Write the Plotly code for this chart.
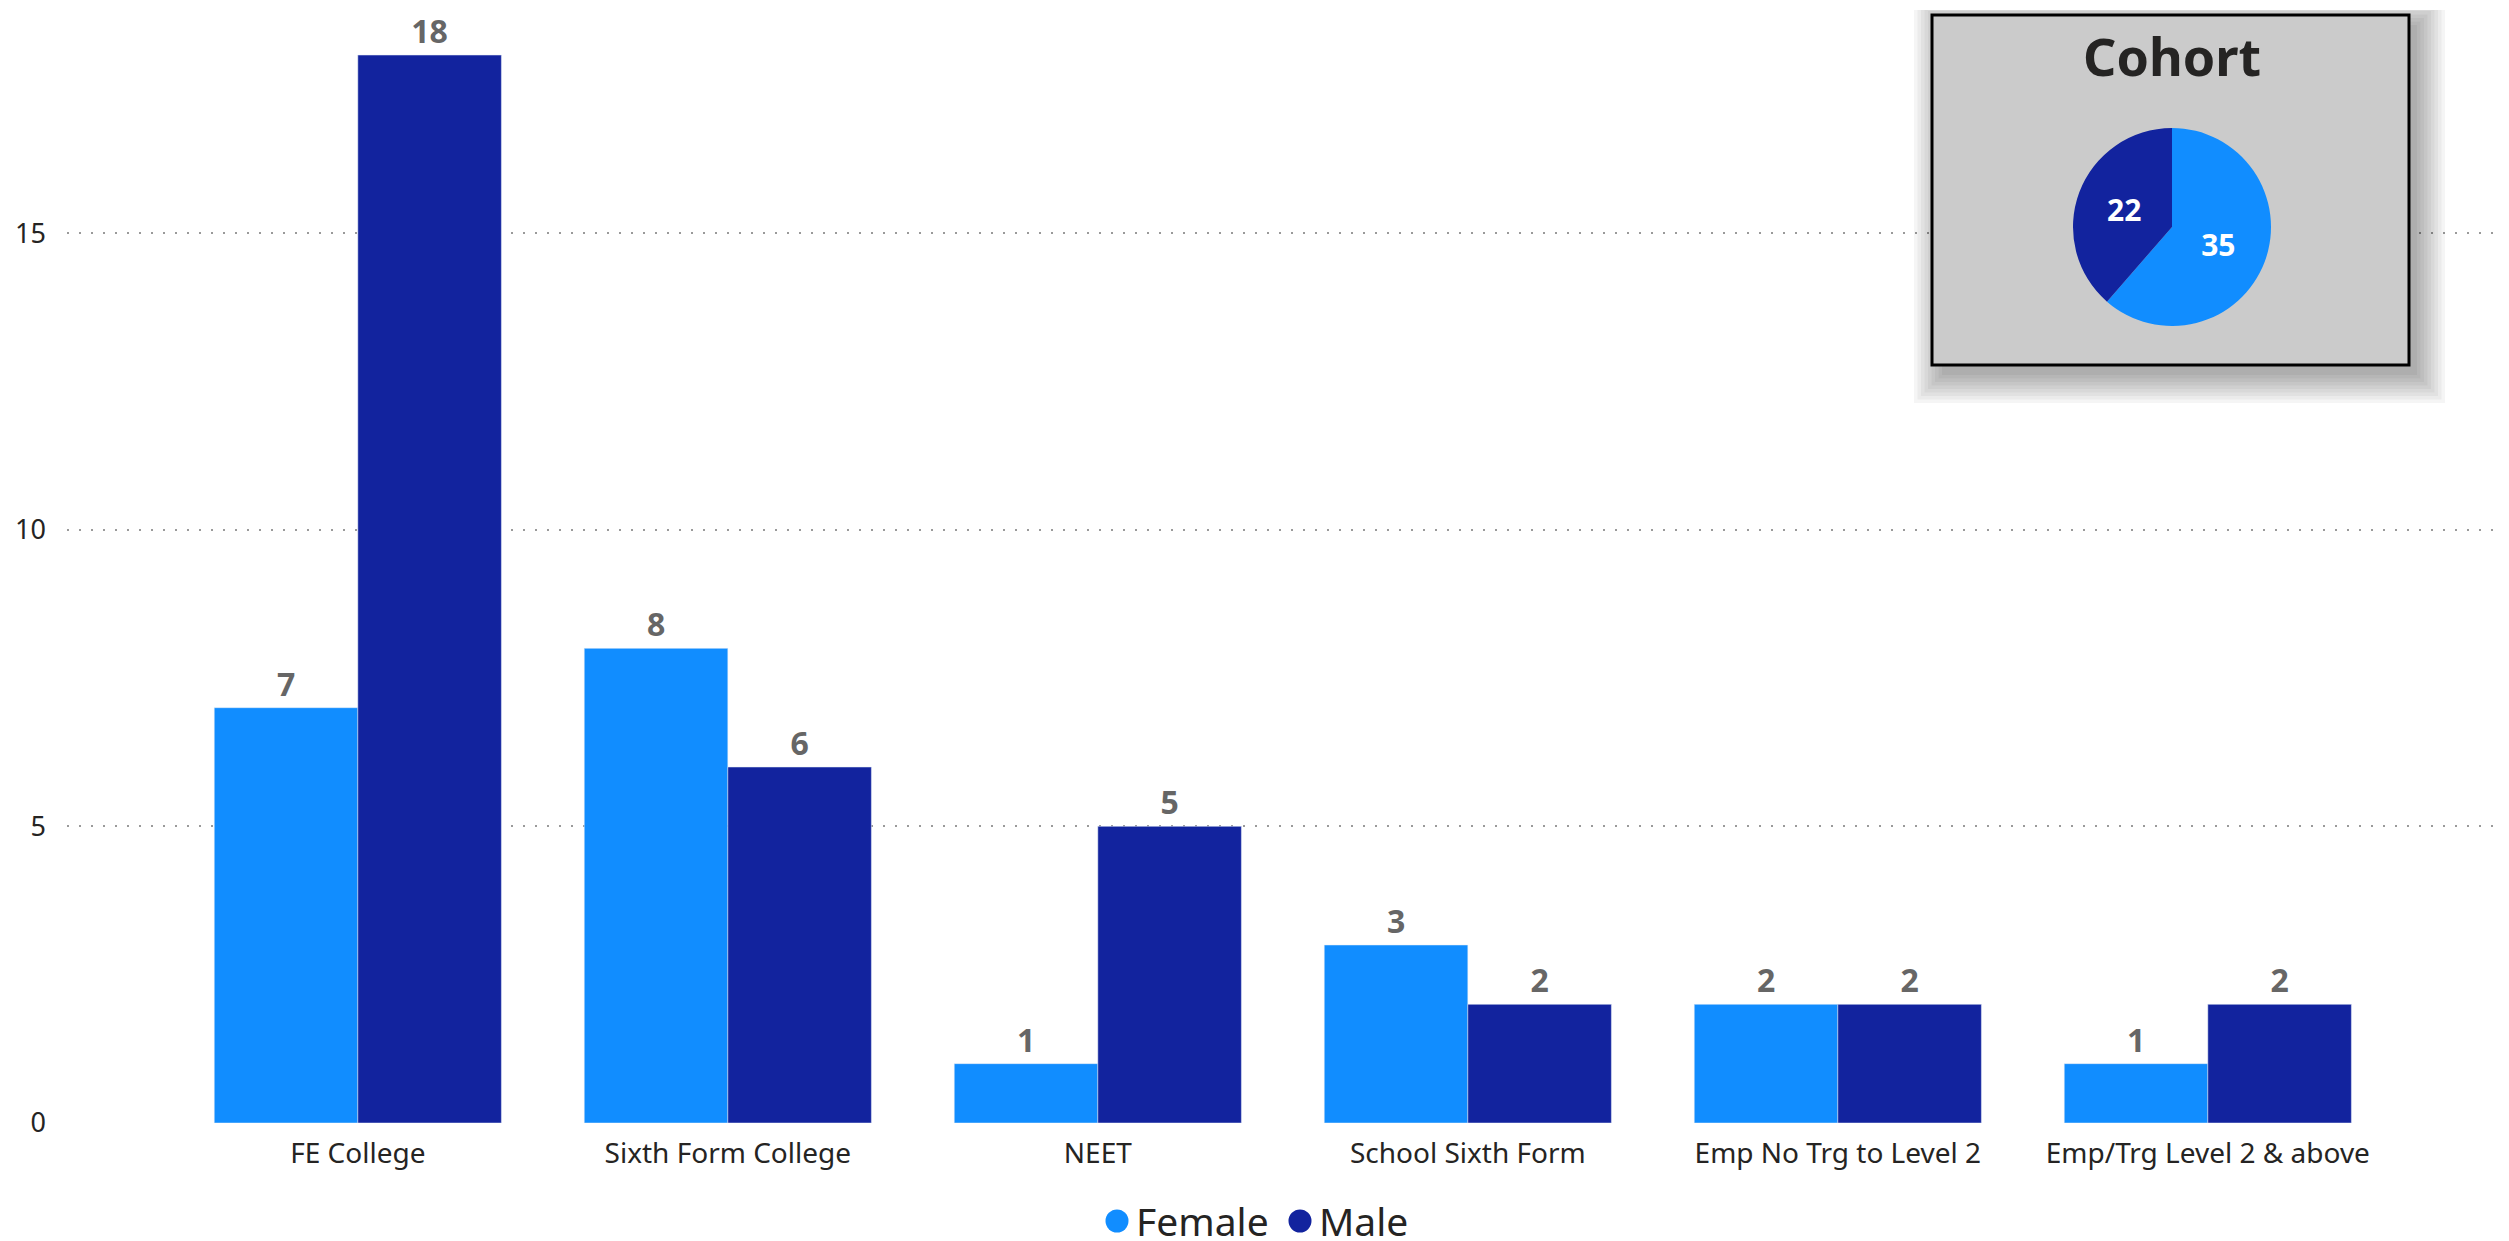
import plotly.graph_objects as go

categories = ["FE College", "Sixth Form College", "NEET", "School Sixth Form",
              "Emp No Trg to Level 2", "Emp/Trg Level 2 & above"]
female = [7, 8, 1, 3, 2, 1]
male = [18, 6, 5, 2, 2, 2]
cohort_labels = ["Female", "Male"]
cohort_values = [35, 22]
y_ticks = [0, 5, 10, 15]
legend_names = ["Female", "Male"]

C_F = "#118DFF"
C_M = "#12239E"
FONT = "Segoe UI, Noto Sans, Open Sans, sans-serif"
TXT = "#252423"

# page has an 8px body margin; work in page pixels and convert
OFF = 8
W, H = 2509 - OFF, 1241 - OFF
ml, mr, mt = 67 - OFF, 0, 10 - OFF
mb = H - (1123 - OFF)
pw, ph = W - ml - mr, H - mt - mb
PX_PER_CAT = 370.0
PX_PER_UNIT = 59.33
x_range = [-0.786, -0.786 + pw / PX_PER_CAT]
y_range = [0, ph / PX_PER_UNIT]

def xd(px):
    return x_range[0] + (px - 67) / PX_PER_CAT

def yd(py):
    return (1123 - py) / PX_PER_UNIT

def xp(px):
    return (px - OFF - ml) / pw

def yp(py):
    return (H - mb - (py - OFF)) / ph

fig = go.Figure()
fig.add_trace(go.Bar(name="Female", x=categories, y=female, marker_color=C_F,
                     text=female, textposition="outside", cliponaxis=False,
                     textfont=dict(family=FONT, size=32, color="#666666", weight="bold"),
                     showlegend=False))
fig.add_trace(go.Bar(name="Male", x=categories, y=male, marker_color=C_M,
                     text=male, textposition="outside", cliponaxis=False,
                     textfont=dict(family=FONT, size=32, color="#666666", weight="bold"),
                     showlegend=False))

# Cohort pie inset
cx, cy, r = 2172, 227, 99
fig.add_trace(go.Pie(labels=cohort_labels, values=cohort_values, sort=False,
                     direction="clockwise", rotation=0,
                     marker=dict(colors=[C_F, C_M], line=dict(width=0)),
                     textinfo="value", textposition="inside",
                     insidetextfont=dict(family=FONT, size=30, color="white", weight="bold"),
                     domain=dict(x=[xp(cx - r), xp(cx + r)], y=[yp(cy + r), yp(cy - r)]),
                     showlegend=False, hoverinfo="label+value"))

shapes = []
bx0, by0, bx1, by1 = 1932, 15, 2409, 365
for k in range(9):
    e = k * 3.5
    shapes.append(dict(type="rect", xref="x", yref="y", layer="between",
                       x0=xd(bx0 + 10 - e), x1=xd(bx1 + 8 + e),
                       y0=yd(by1 + 10 + e), y1=yd(by0 + 10 - e),
                       fillcolor="rgba(0,0,0,0.04)", line=dict(width=0)))
shapes.append(dict(type="rect", xref="x", yref="y", layer="between",
                   x0=xd(bx0), x1=xd(bx1), y0=yd(by1), y1=yd(by0),
                   fillcolor="#CBCBCB", line=dict(color="black", width=3)))

annotations = [
    dict(text="<b>Cohort</b>", x=xp(cx), y=yp(55), xref="paper", yref="paper",
         showarrow=False, font=dict(family=FONT, size=52, color=TXT),
         xanchor="center", yanchor="middle"),
]

# custom legend: circle markers + labels
leg_y = 1220
leg_items = [(1117, 1137, C_F), (1300, 1320, C_M)]
for name, (mx, tx, col) in zip(legend_names, leg_items):
    rr = 11.5
    shapes.append(dict(type="circle", xref="paper", yref="paper", layer="above",
                       x0=xp(mx - rr), x1=xp(mx + rr), y0=yp(leg_y + 1 + rr), y1=yp(leg_y + 1 - rr),
                       fillcolor=col, line=dict(width=0)))
    annotations.append(dict(text=name, x=xp(tx), y=yp(leg_y), xref="paper", yref="paper",
                            showarrow=False, font=dict(family=FONT, size=39, color=TXT),
                            xanchor="left", yanchor="middle", xshift=-3))

fig.update_layout(
    width=W, height=H,
    margin=dict(l=ml, r=mr, t=mt, b=mb),
    paper_bgcolor="white", plot_bgcolor="white",
    barmode="group", bargap=0.224, bargroupgap=0,
    font=dict(family=FONT, color=TXT),
    shapes=shapes, annotations=annotations,
    showlegend=False,
    xaxis=dict(range=x_range, showgrid=False, zeroline=False, showline=False,
               ticks="", tickfont=dict(size=28, color=TXT, family=FONT),
               ticklabelstandoff=11),
    yaxis=dict(range=y_range, tickvals=y_ticks, showgrid=True, gridcolor="#9a9a9a",
               gridwidth=2, griddash="2px,10px", zeroline=False, showline=False,
               ticks="", tickfont=dict(size=27, color=TXT, family=FONT),
               ticklabelstandoff=20),
)

fig.write_html("out.html")
